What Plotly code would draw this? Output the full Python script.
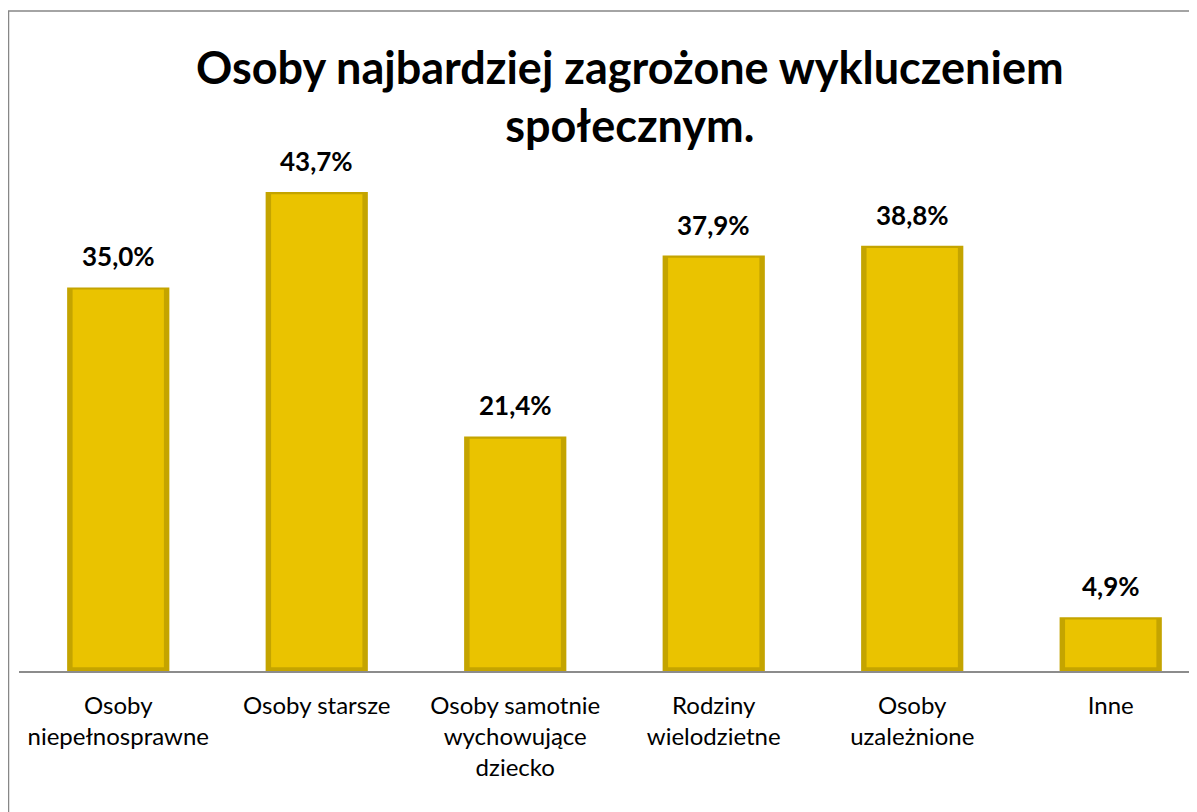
import plotly.graph_objects as go

categories = ["Osoby<br>niepełnosprawne", "Osoby starsze", "Osoby samotnie<br>wychowujące<br>dziecko",
              "Rodziny<br>wielodzietne", "Osoby<br>uzależnione", "Inne"]
values = [0.350, 0.437, 0.214, 0.379, 0.388, 0.049]
title_text = "Osoby najbardziej zagrożone wykluczeniem<br>społecznym."

x_idx = list(range(len(categories)))
inner = [v - 0.0055 for v in values]
FONT = "Lato, Open Sans, sans-serif"

fig = go.Figure()
fig.add_trace(go.Bar(
    x=x_idx, y=values, width=0.515,
    marker=dict(color="#C4A400", line=dict(width=0)),
    hoverinfo="skip",
))
fig.add_trace(go.Bar(
    x=x_idx, y=inner, width=0.46, base=0.0035,
    marker=dict(color="#EAC300", line=dict(width=0)),
    hoverinfo="skip",
))

for i, v in zip(x_idx, values):
    fig.add_annotation(x=i, y=v, xref="x", yref="y", text=f"{v*100:.1f}%".replace(".", ","),
                       showarrow=False, yanchor="bottom", yshift=13,
                       font=dict(family=FONT, size=26, color="#000000", weight="bold"))

fig.update_layout(
    width=1197, height=812,
    barmode="overlay",
    separators=",.",
    showlegend=False,
    paper_bgcolor="white", plot_bgcolor="white",
    margin=dict(l=11, r=0, t=115, b=149),
    title=dict(text=title_text, x=0.515, xref="paper", xanchor="center",
               y=0.907, yref="container", yanchor="top",
               font=dict(family=FONT, size=45, color="#000000", weight="bold")),
    font=dict(family=FONT),
    xaxis=dict(tickmode="array", tickvals=x_idx, ticktext=categories,
               range=[-0.5, 5.475], showline=True, linecolor="#8C8C8C", linewidth=1.5,
               showgrid=False, zeroline=False, ticks="", ticklabelstandoff=12,
               tickfont=dict(family=FONT, size=24, color="#000000")),
    yaxis=dict(range=[0, 0.5], visible=False, showgrid=False, zeroline=False),
    shapes=[dict(type="rect", xref="paper", yref="paper",
                 x0=(0.5 - 11) / 1186, x1=1.5, y0=-0.5, y1=(663 - 3) / 548,
                 line=dict(color="#878787", width=1.5), fillcolor="rgba(0,0,0,0)", layer="below")],
)

fig.write_html("out.html")
